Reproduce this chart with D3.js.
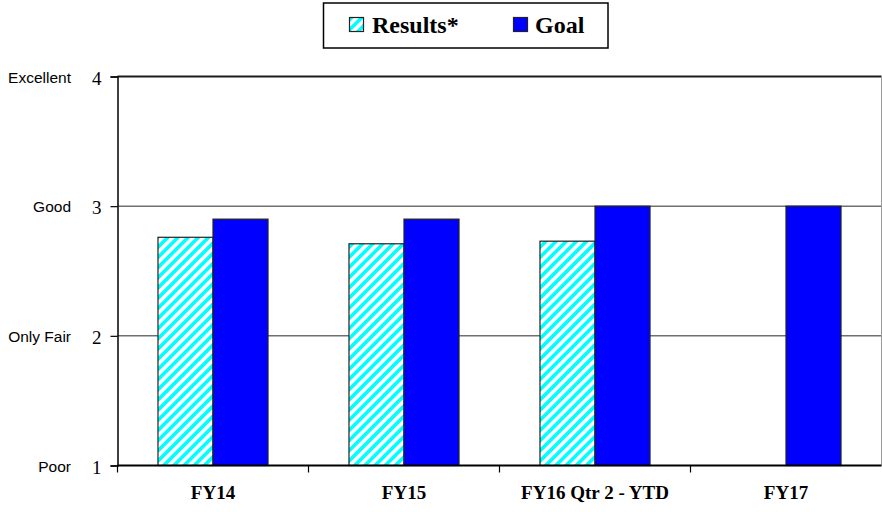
<!DOCTYPE html>
<html>
<head>
<meta charset="utf-8">
<script src="https://cdn.jsdelivr.net/npm/d3@7"></script>
<style>
  html, body { margin: 0; padding: 0; background: #fff; }
  svg { display: block; }
</style>
</head>
<body>
<svg id="chart" width="882" height="512"></svg>
<script>
// Survey rating by fiscal year: measured results against the goal
const categories = ["FY14", "FY15", "FY16 Qtr 2 - YTD", "FY17"];
const seriesNames = ["Results*", "Goal"];
const resultsValues = [2.76, 2.71, 2.73, null];
const goalValues = [2.9, 2.9, 3.0, 3.0];
const yTickValues = [1, 2, 3, 4];
const yTickWords = ["Poor", "Only Fair", "Good", "Excellent"];

const svg = d3.select("#chart");
const plot = { left: 117.5, right: 881.5, top: 76.5, bottom: 465.5 };

const serif = "'Liberation Serif', 'Times New Roman', serif";
const sans = "'Liberation Sans', Arial, sans-serif";

// Diagonal cyan stripes for the results series
const defs = svg.append("defs");
const pat = defs.append("pattern")
  .attr("id", "hatch")
  .attr("patternUnits", "userSpaceOnUse")
  .attr("width", 7.2).attr("height", 7.2)
  .attr("patternTransform", "rotate(45)");
pat.append("rect").attr("width", 7.2).attr("height", 7.2).attr("fill", "#fff");
pat.append("rect").attr("width", 3.6).attr("height", 7.2).attr("fill", "#00ffff");

const x0 = d3.scaleBand().domain(categories).range([plot.left, plot.right]);
const x1 = d3.scaleBand().domain(seriesNames).range([0, x0.bandwidth()])
  .paddingInner(0).paddingOuter(0.736);
const y = d3.scaleLinear().domain([1, 4]).range([plot.bottom, plot.top]);

// Horizontal gridlines
svg.append("g").selectAll("line")
  .data(yTickValues.filter(v => v > 1 && v < 4))
  .join("line")
  .attr("x1", plot.left).attr("x2", plot.right)
  .attr("y1", d => y(d)).attr("y2", d => y(d))
  .attr("stroke", "#707070").attr("stroke-width", 1.5);

// Plot frame: top and right edges
svg.append("line")
  .attr("x1", plot.left).attr("x2", plot.right)
  .attr("y1", y(4)).attr("y2", y(4))
  .attr("stroke", "#1a1a1a").attr("stroke-width", 2);
svg.append("line")
  .attr("x1", plot.right).attr("x2", plot.right)
  .attr("y1", plot.top).attr("y2", plot.bottom)
  .attr("stroke", "#9a9a9a").attr("stroke-width", 1);

// Bars
const rows = categories.map((c, i) => ({
  cat: c,
  vals: [
    { s: "Results*", v: resultsValues[i] },
    { s: "Goal", v: goalValues[i] }
  ]
}));

const groups = svg.append("g").selectAll("g")
  .data(rows).join("g")
  .attr("transform", d => `translate(${x0(d.cat)},0)`);

groups.selectAll("rect")
  .data(d => d.vals.filter(e => e.v != null))
  .join("rect")
  .attr("x", d => x1(d.s))
  .attr("width", x1.bandwidth())
  .attr("y", d => y(d.v))
  .attr("height", d => y(1) - y(d.v))
  .attr("fill", d => d.s === "Goal" ? "#0000ff" : "url(#hatch)")
  .attr("stroke", "#222")
  .attr("stroke-width", 1.2);

// Left axis with numeric ticks
const yAxis = d3.axisLeft(y).tickValues(yTickValues).tickFormat(d3.format("d"))
  .tickSize(7).tickPadding(9);
const gy = svg.append("g").attr("transform", `translate(${plot.left},0)`).call(yAxis);
gy.select(".domain").attr("stroke", "#000").attr("stroke-width", 1.5);
gy.selectAll(".tick line").attr("stroke", "#000").attr("stroke-width", 1.2);
gy.selectAll(".tick text")
  .attr("font-family", serif).attr("font-size", 19).attr("fill", "#000")
  .attr("dy", "0.4em");

// Verbal rating beside each numeric tick
svg.append("g").selectAll("text")
  .data(yTickValues)
  .join("text")
  .attr("x", 71)
  .attr("y", d => y(d))
  .attr("dy", "0.4em")
  .attr("text-anchor", "end")
  .attr("font-family", sans).attr("font-size", 15.5).attr("fill", "#000")
  .text((d, i) => yTickWords[i]);

// Bottom axis: ticks at band boundaries, labels centered in bands
svg.append("line")
  .attr("x1", plot.left).attr("x2", plot.right)
  .attr("y1", plot.bottom).attr("y2", plot.bottom)
  .attr("stroke", "#000").attr("stroke-width", 2);
svg.append("g").selectAll("line")
  .data(categories)
  .join("line")
  .attr("x1", d => x0(d)).attr("x2", d => x0(d))
  .attr("y1", plot.bottom).attr("y2", plot.bottom + 7)
  .attr("stroke", "#000").attr("stroke-width", 1.2);
svg.append("g").selectAll("text")
  .data(categories)
  .join("text")
  .attr("x", d => x0(d) + x0.bandwidth() / 2)
  .attr("y", 499)
  .attr("text-anchor", "middle")
  .attr("font-family", serif).attr("font-weight", "bold").attr("font-size", 19)
  .attr("fill", "#000")
  .text(d => d);

// Legend
const legend = svg.append("g");
legend.append("rect")
  .attr("x", 323.5).attr("y", 3).attr("width", 284.5).attr("height", 45)
  .attr("fill", "#fff").attr("stroke", "#000").attr("stroke-width", 1.5);
const legendItems = [
  { name: seriesNames[0], fill: "url(#hatch)", sx: 349.5, tx: 372 },
  { name: seriesNames[1], fill: "#0000ff", sx: 513.5, tx: 535 }
];
legend.selectAll("rect.sw")
  .data(legendItems).join("rect")
  .attr("class", "sw")
  .attr("x", d => d.sx).attr("y", 17.5).attr("width", 14).attr("height", 14)
  .attr("fill", d => d.fill).attr("stroke", "#222").attr("stroke-width", 1.2);
legend.selectAll("text")
  .data(legendItems).join("text")
  .attr("x", d => d.tx).attr("y", 33)
  .attr("font-family", serif).attr("font-weight", "bold").attr("font-size", 24)
  .attr("fill", "#000")
  .text(d => d.name);
</script>
</body>
</html>
